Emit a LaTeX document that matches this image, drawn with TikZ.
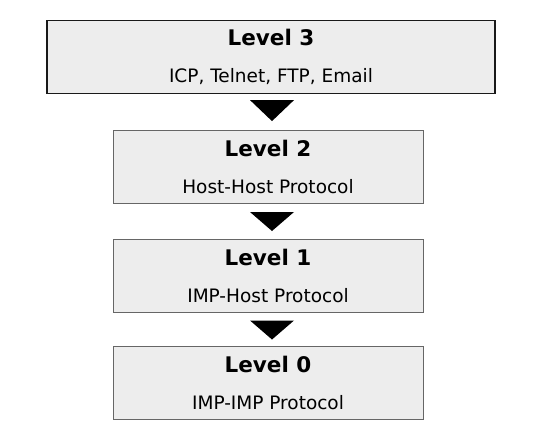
\documentclass[tikz,border=0pt]{standalone}
\usepackage{fontspec}
\setmainfont{DejaVu Sans}
\tikzset{
  levelbox/.style={draw=black!60, fill=black!7, line width=1pt, minimum width=310pt,
    minimum height=73pt, inner sep=0pt, align=center, font=\fontsize{18.5}{37}\selectfont},
  topbox/.style={levelbox, draw=black!90, line width=1.2pt, minimum width=448pt},
  arrowtri/.style={fill=black}
}
\newcommand{\lvltext}[2]{{\fontsize{21.5}{37}\selectfont\bfseries #1}\\#2}
\begin{document}
\begin{tikzpicture}[x=1pt,y=-1pt]
  \useasboundingbox (0,0) rectangle (543,440);
  % Camadas
  \node[topbox]   (l3) at (271,57)    {\lvltext{Level 3}{ICP, Telnet, FTP, Email}};
  \node[levelbox] (l2) at (268,167)   {\lvltext{Level 2}{Host-Host Protocol}};
  \node[levelbox] (l1) at (268,275.5) {\lvltext{Level 1}{IMP-Host Protocol}};
  \node[levelbox] (l0) at (268,382.5) {\lvltext{Level 0}{IMP-IMP Protocol}};
  % Setas entre as camadas
  \fill[arrowtri] ([xshift=-21pt,yshift=-6pt]l3.south) -- ([xshift=23pt,yshift=-6pt]l3.south) -- ([xshift=1pt,yshift=-27pt]l3.south) -- cycle;
  \foreach \a in {l2,l1}
    \fill[arrowtri] ([xshift=-18pt,yshift=-8pt]\a.south) -- ([xshift=26pt,yshift=-8pt]\a.south) -- ([xshift=4pt,yshift=-27pt]\a.south) -- cycle;
\end{tikzpicture}
\end{document}
